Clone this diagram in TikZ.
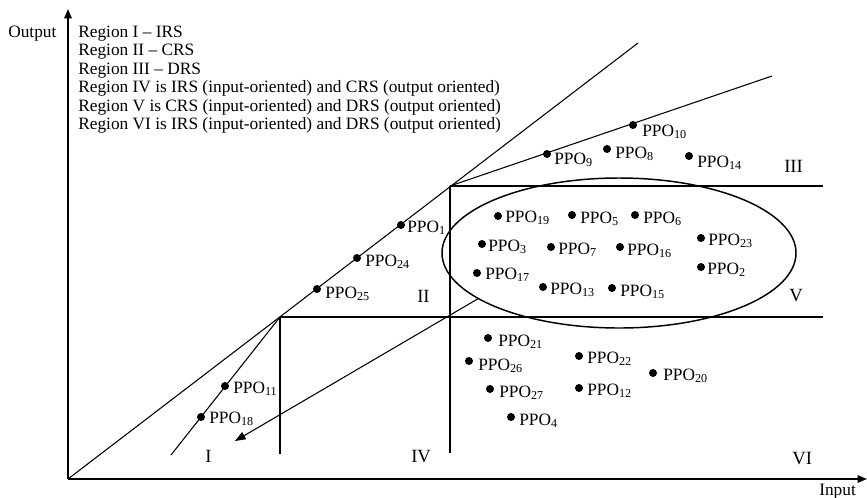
\documentclass[tikz,border=0pt]{standalone}
\usepackage{fontspec}
\setmainfont{Liberation Serif}
\usepackage{tikz}
\usetikzlibrary{arrows.meta,shapes.geometric}

\begin{document}
\begin{tikzpicture}[x=0.75pt,y=0.75pt,yscale=-1,xscale=1,
  dot/.style={circle,fill=black,inner sep=0pt,minimum size=6pt},
  lab/.style={anchor=base west,inner sep=0pt,font=\fontsize{13}{14}\selectfont},
  reg/.style={anchor=base west,inner sep=0pt,font=\fontsize{14}{15}\selectfont},
  thinline/.style={line width=0.8pt}]
\useasboundingbox (0,0) rectangle (867,497);

%Corner points of the regions
\coordinate (O) at (68,479);
\coordinate (ytop) at (68,9);
\coordinate (xend) at (867,479);
\coordinate (k1) at (280,317);
\coordinate (k2) at (450,186);
\coordinate (crsend) at (638,43);
\coordinate (drsend) at (772,76);
\coordinate (irsend) at (171,455);
\coordinate (h1end) at (823,186);
\coordinate (h2end) at (823,317);
\coordinate (v1end) at (280,454);
\coordinate (v2end) at (450,453);
\coordinate (tip) at (235,441);

%Axes
\draw [line width=1.4pt,-{Triangle[length=7pt,width=5.5pt]}] (O) -- (ytop);
\draw [line width=1.4pt,-{Triangle[length=7pt,width=5.5pt]}] (O) -- (xend);

%Straight Lines
\draw [thinline] (O) -- (crsend);
\draw [thinline] (k2) -- (drsend);
\draw [thinline] (k1) -- (irsend);
%Straight Lines
\draw [thinline] (k2) -- (h1end);
\draw [thinline] (k2) -- (v2end);
\draw [thinline] (k1) -- (h2end);
\draw [thinline] (k1) -- (v1end);

%Ellipse
\node [draw,ellipse,line width=1.1pt,inner sep=0pt,minimum width=265.5pt,minimum height=112.5pt] (oval) at (619,253) {};
\draw [thinline,-{Triangle[length=8pt,width=6pt]}] (oval.198) -- (tip);

% Text Node
\node [lab] (outlab) at (8,37) {Output};
% Text Node
\node [lab] (inlab) at (819,495) {Input};
% Text Node
\node [anchor=north west,inner sep=0pt,align=left,font=\fontsize{13}{13.9}\selectfont] (legend) at (78,25.5) {Region I -- IRS\\
Region II -- CRS\\
Region III -- DRS\\
Region IV is IRS (input-oriented) and CRS (output oriented)\\
Region V is CRS (input-oriented) and DRS (output oriented)\\
Region VI is IRS (input-oriented) and DRS (output oriented)};

% Region Nodes
\node [reg] (rI) at (205,462) {I};
\node [reg] (rII) at (417,302) {II};
\node [reg] (rIII) at (784,172) {III};
\node [reg] (rIV) at (411,462) {IV};
\node [reg] (rV) at (789,301) {V};
\node [reg] (rVI) at (792,464) {VI};

% PPO points
\node [dot] (p1) at (401,225) {};
\node [dot] (p24) at (357,258) {};
\node [dot] (p25) at (317,289) {};
\node [dot] (p11) at (225,386) {};
\node [dot] (p18) at (201,417) {};
\node [dot] (p9) at (547,154) {};
\node [dot] (p10) at (633,125) {};
\node [dot] (p8) at (607,149) {};
\node [dot] (p14) at (689,156) {};
\node [dot] (p19) at (498,216) {};
\node [dot] (p5) at (572,215) {};
\node [dot] (p6) at (635,215) {};
\node [dot] (p3) at (482,244) {};
\node [dot] (p7) at (551,247) {};
\node [dot] (p16) at (620,247) {};
\node [dot] (p23) at (701,238) {};
\node [dot] (p2) at (701,267) {};
\node [dot] (p17) at (477,273) {};
\node [dot] (p13) at (543,287) {};
\node [dot] (p15) at (612,288) {};
\node [dot] (p21) at (488,338) {};
\node [dot] (p26) at (469,361) {};
\node [dot] (p22) at (579,356) {};
\node [dot] (p20) at (653,373) {};
\node [dot] (p27) at (490,389) {};
\node [dot] (p12) at (579,388) {};
\node [dot] (p4) at (511,417) {};

% PPO labels
\node [lab] (l1) at (407,232) {PPO\textsubscript{1}};
\node [lab] (l24) at (365,266) {PPO\textsubscript{24}};
\node [lab] (l25) at (325,298) {PPO\textsubscript{25}};
\node [lab] (l11) at (233,393) {PPO\textsubscript{11}};
\node [lab] (l18) at (209,423) {PPO\textsubscript{18}};
\node [lab] (l9) at (554,164) {PPO\textsubscript{9}};
\node [lab] (l10) at (642,136) {PPO\textsubscript{10}};
\node [lab] (l8) at (615,158) {PPO\textsubscript{8}};
\node [lab] (l14) at (697,167) {PPO\textsubscript{14}};
\node [lab] (l19) at (505,222) {PPO\textsubscript{19}};
\node [lab] (l5) at (580,223) {PPO\textsubscript{5}};
\node [lab] (l6) at (643,223) {PPO\textsubscript{6}};
\node [lab] (l3) at (488,251) {PPO\textsubscript{3}};
\node [lab] (l7) at (558,254) {PPO\textsubscript{7}};
\node [lab] (l16) at (627,255) {PPO\textsubscript{16}};
\node [lab] (l23) at (708,245) {PPO\textsubscript{23}};
\node [lab] (l2) at (707,274) {PPO\textsubscript{2}};
\node [lab] (l17) at (485,279) {PPO\textsubscript{17}};
\node [lab] (l13) at (550,294) {PPO\textsubscript{13}};
\node [lab] (l15) at (620,296) {PPO\textsubscript{15}};
\node [lab] (l21) at (498,346) {PPO\textsubscript{21}};
\node [lab] (l26) at (478,370) {PPO\textsubscript{26}};
\node [lab] (l22) at (587,363) {PPO\textsubscript{22}};
\node [lab] (l20) at (663,380) {PPO\textsubscript{20}};
\node [lab] (l27) at (499,397) {PPO\textsubscript{27}};
\node [lab] (l12) at (587,395) {PPO\textsubscript{12}};
\node [lab] (l4) at (519,425) {PPO\textsubscript{4}};

\end{tikzpicture}
\end{document}
